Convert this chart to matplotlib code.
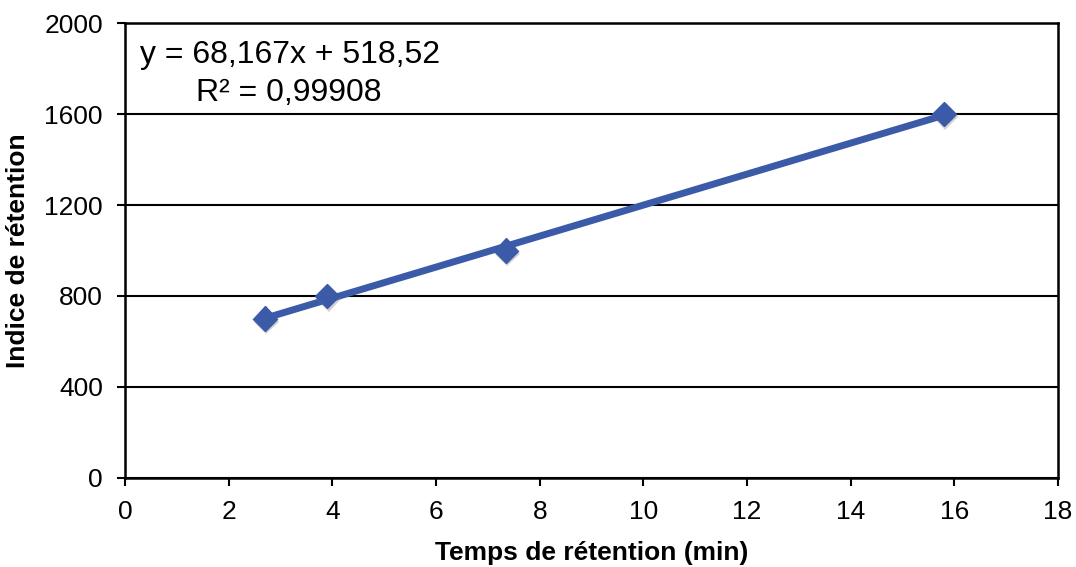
import numpy as np
import matplotlib
matplotlib.use("Agg")
import matplotlib.pyplot as plt
import matplotlib.patheffects as pe

# Data
retention_time = [2.7, 3.9, 7.35, 15.8]
retention_index = [700, 800, 1000, 1600]
x_ticks = [0, 2, 4, 6, 8, 10, 12, 14, 16, 18]
y_ticks = [0, 400, 800, 1200, 1600, 2000]
equation_text = "y = 68,167x + 518,52"
r2_text = "R² = 0,99908"

plt.rcParams["font.family"] = ["Liberation Sans", "DejaVu Sans"]

blue = "#3B5BA8"

fig = plt.figure(figsize=(10.76, 5.67), dpi=100)
ax = fig.add_axes([0.1162, 0.157, 0.8671, 0.8024])

# linear trendline over the data range
slope, intercept = np.polyfit(retention_time, retention_index, 1)
xs = np.array([min(retention_time), max(retention_time)])
ax.plot(xs, slope * xs + intercept, color=blue, linewidth=5, solid_capstyle="butt", zorder=3)

ax.plot(retention_time, retention_index, linestyle="none", marker="D", markersize=12.5,
        color=blue, zorder=4,
        path_effects=[pe.SimplePatchShadow(offset=(1, -2.5), shadow_rgbFace="gray", alpha=0.35),
                      pe.Normal()])

ax.set_xlim(0, 18)
ax.set_ylim(0, 2000)
ax.set_xticks(x_ticks)
ax.set_yticks(y_ticks)
ax.yaxis.grid(True, color="black", linewidth=1.5)
ax.set_axisbelow(True)
for s in ax.spines.values():
    s.set_linewidth(1.8)
    s.set_color("black")
ax.tick_params(axis="both", direction="out", length=6, width=1.5, labelsize=19)
ax.tick_params(axis="x", pad=10)
ax.tick_params(axis="y", pad=10)

ax.set_xlabel("Temps de rétention (min)", fontsize=19, fontweight="bold", labelpad=12)
ax.set_ylabel("Indice de rétention", fontsize=19, fontweight="bold", labelpad=10)

ax.text(0.016, 0.93, equation_text, transform=ax.transAxes, fontsize=23,
        ha="left", va="center", zorder=5,
        bbox=dict(facecolor="white", edgecolor="none", pad=2))
ax.text(0.076, 0.846, r2_text, transform=ax.transAxes, fontsize=23,
        ha="left", va="center", zorder=5,
        bbox=dict(facecolor="white", edgecolor="none", pad=2))

fig.savefig("out.png", dpi=100)
